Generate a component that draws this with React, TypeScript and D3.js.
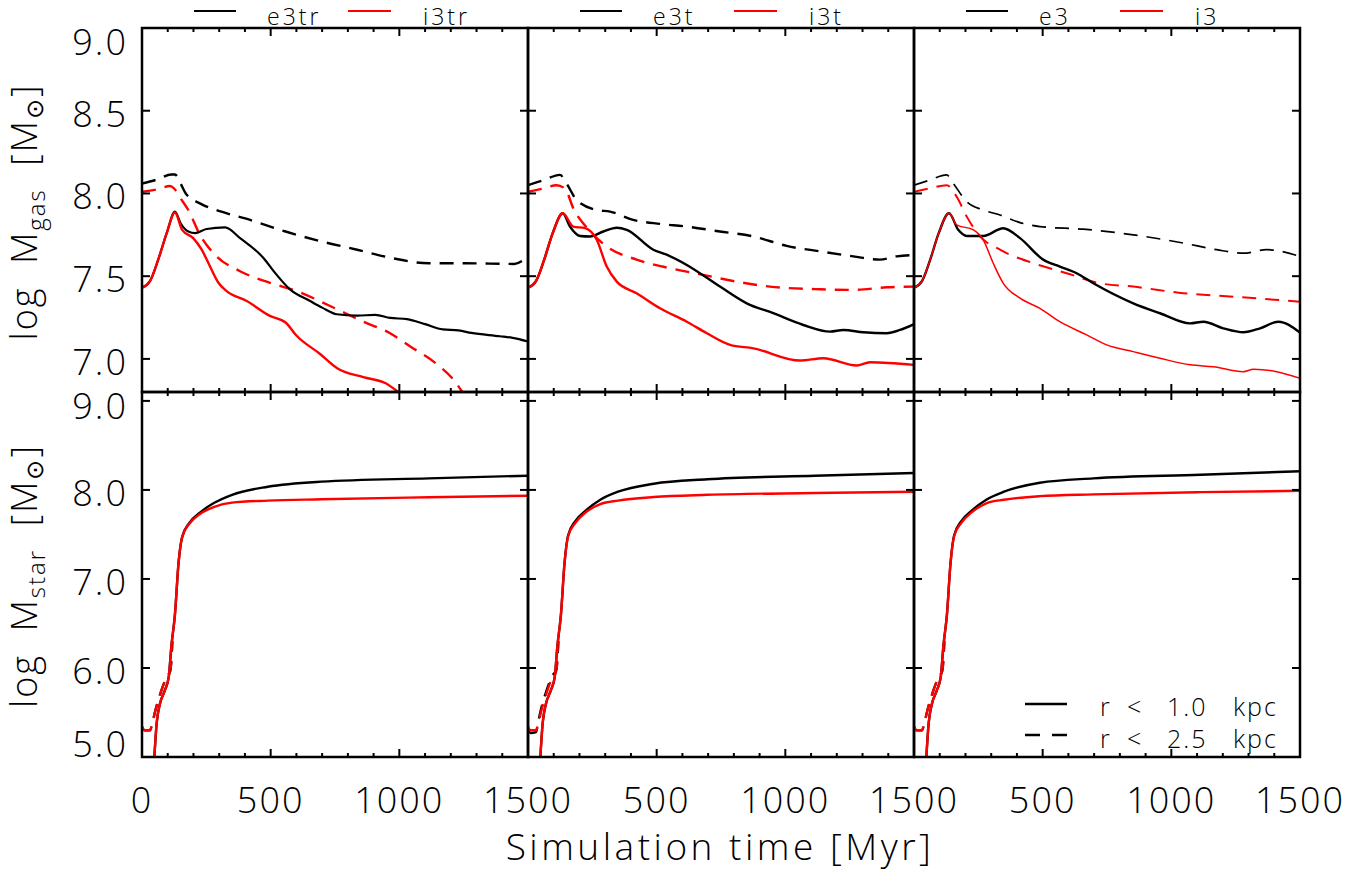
import React from 'react';
import * as d3 from 'd3';

type P = [number, number];

// ---------- time axis ----------
const timeMajor = [0, 500, 1000, 1500];
const timeMinor = [100, 200, 300, 400, 600, 700, 800, 900, 1100, 1200, 1300, 1400];
const gasTicks = [7.0, 7.5, 8.0, 8.5, 9.0];
const starTicks = [5.0, 6.0, 7.0, 8.0, 9.0];

// ---------- panel 1 : e3tr / i3tr (gas) ----------
const gasE3trCore: P[] = [[0,7.43],[31,7.47],[63,7.60],[96,7.76],[128,7.89],[150,7.82],[180,7.77],[206,7.76],[251,7.785],[323,7.795],[381,7.73],[472,7.61],[517,7.52],[575,7.42],[653,7.35],[700,7.31],[757,7.27],[836,7.262],[906,7.266],[964,7.248],[1030,7.24],[1100,7.21],[1169,7.178],[1230,7.172],[1280,7.157],[1391,7.137],[1440,7.127],[1500,7.105]];
const gasI3trCore: P[] = [[0,7.43],[31,7.47],[63,7.60],[96,7.76],[128,7.885],[156,7.78],[199,7.73],[232,7.66],[264,7.56],[297,7.46],[329,7.41],[407,7.35],[497,7.26],[558,7.22],[601,7.14],[692,7.03],[757,6.945],[860,6.89],[947,6.853],[996,6.80]];
const gasE3trOuter: P[] = [[0,8.06],[60,8.085],[114,8.115],[128,8.115],[150,8.06],[170,8.0],[225,7.94],[309,7.89],[420,7.84],[558,7.77],[697,7.71],[836,7.66],[975,7.608],[1114,7.578],[1253,7.578],[1447,7.574],[1500,7.62]];
const gasI3trOuter: P[] = [[0,8.01],[60,8.025],[109,8.045],[125,8.03],[150,7.97],[180,7.90],[225,7.75],[290,7.62],[381,7.53],[497,7.46],[601,7.41],[731,7.32],[860,7.225],[964,7.155],[1044,7.074],[1141,6.974],[1211,6.873],[1245,6.80]];

// ---------- panel 2 : e3t / i3t (gas) ----------
const gasE3tCore: P[] = [[0,7.43],[31,7.47],[63,7.60],[96,7.76],[135,7.88],[163,7.80],[202,7.743],[241,7.74],[293,7.77],[345,7.793],[384,7.78],[487,7.66],[539,7.63],[617,7.568],[746,7.437],[850,7.336],[953,7.276],[1070,7.205],[1174,7.165],[1226,7.175],[1303,7.161],[1394,7.155],[1446,7.175],[1500,7.21]];
const gasI3tCore: P[] = [[0,7.43],[31,7.47],[63,7.60],[96,7.76],[135,7.88],[176,7.80],[222,7.79],[267,7.72],[306,7.558],[345,7.467],[422,7.397],[513,7.306],[617,7.225],[695,7.155],[785,7.085],[876,7.064],[1057,6.99],[1148,7.004],[1277,6.96],[1329,6.98],[1500,6.964]];
const gasE3tOuter: P[] = [[0,8.05],[60,8.08],[124,8.112],[150,8.06],[189,7.96],[267,7.90],[319,7.89],[409,7.84],[513,7.816],[617,7.80],[746,7.77],[876,7.74],[1005,7.683],[1135,7.65],[1264,7.62],[1368,7.60],[1433,7.62],[1500,7.628]];
const gasI3tOuter: P[] = [[0,8.01],[60,8.03],[111,8.05],[143,8.03],[179,7.90],[225,7.80],[306,7.68],[422,7.60],[552,7.548],[681,7.508],[811,7.467],[940,7.437],[1135,7.421],[1264,7.417],[1394,7.433],[1500,7.437]];

// ---------- panel 3 : e3 / i3 (gas) ----------
const gasE3Core: P[] = [[0,7.43],[31,7.47],[63,7.60],[96,7.76],[136,7.88],[172,7.78],[205,7.743],[269,7.743],[347,7.79],[412,7.73],[502,7.60],[567,7.558],[632,7.518],[697,7.457],[852,7.336],[956,7.276],[1073,7.215],[1125,7.225],[1202,7.185],[1280,7.161],[1345,7.185],[1416,7.225],[1500,7.159]];
const gasI3Core: P[] = [[0,7.43],[31,7.47],[63,7.60],[96,7.76],[136,7.88],[166,7.81],[231,7.78],[269,7.72],[308,7.578],[347,7.457],[412,7.367],[489,7.306],[567,7.225],[671,7.145],[749,7.085],[852,7.044],[956,7.004],[1073,6.964],[1163,6.953],[1280,6.923],[1319,6.937],[1409,6.923],[1500,6.883]];
const gasE3Outer: P[] = [[0,8.05],[60,8.08],[127,8.112],[153,8.06],[205,7.95],[269,7.90],[334,7.87],[412,7.824],[489,7.80],[658,7.784],[852,7.75],[1047,7.70],[1176,7.66],[1280,7.639],[1370,7.66],[1500,7.62]];
const gasI3Outer: P[] = [[0,8.01],[60,8.03],[127,8.05],[166,7.98],[205,7.86],[257,7.74],[334,7.66],[464,7.578],[593,7.518],[723,7.457],[852,7.437],[1047,7.397],[1241,7.376],[1500,7.346]];

// ---------- stellar mass ----------
const starE3trCore: P[] = [[48,5.0],[57,5.38],[70,5.60],[89,5.75],[104,5.90],[114,6.24],[128,6.6],[142,7.18],[156,7.47],[184,7.63],[225,7.745],[281,7.855],[350,7.945],[489,8.036],[697,8.093],[1114,8.13],[1500,8.16]];
const starI3trCore: P[] = [[48,5.0],[57,5.38],[70,5.60],[89,5.75],[104,5.90],[114,6.24],[128,6.6],[142,7.18],[156,7.47],[184,7.62],[225,7.73],[281,7.81],[350,7.857],[489,7.88],[697,7.895],[1114,7.917],[1500,7.935]];
const starE3trOuter: P[] = [[0,5.34],[10,5.30],[31,5.30],[40,5.38],[50,5.50],[70,5.70],[96,5.90],[110,5.97],[118,6.3]];
const starI3trOuter: P[] = [[0,5.34],[10,5.30],[31,5.30],[40,5.38],[50,5.50],[70,5.70],[96,5.90],[110,5.97],[118,6.3]];

const starE3tCore: P[] = [[48,5.0],[57,5.38],[70,5.60],[89,5.75],[104,5.90],[114,6.24],[128,6.6],[142,7.18],[156,7.49],[184,7.65],[225,7.77],[281,7.89],[350,7.98],[489,8.07],[697,8.12],[1114,8.16],[1500,8.19]];
const starI3tCore: P[] = [[48,5.0],[57,5.38],[70,5.60],[89,5.75],[104,5.90],[114,6.24],[128,6.6],[142,7.18],[156,7.48],[184,7.63],[225,7.75],[281,7.84],[350,7.88],[489,7.92],[697,7.945],[1114,7.965],[1500,7.98]];
const starE3tOuter: P[] = [[0,5.30],[10,5.27],[31,5.28],[40,5.40],[50,5.53],[70,5.73],[96,5.92],[110,5.98],[118,6.3]];
const starI3tOuter: P[] = [[0,5.34],[10,5.30],[31,5.30],[40,5.38],[50,5.50],[70,5.70],[96,5.90],[110,5.97],[118,6.3]];

const starE3Core: P[] = [[48,5.0],[57,5.38],[70,5.60],[89,5.75],[104,5.90],[114,6.24],[128,6.6],[142,7.18],[156,7.49],[184,7.65],[225,7.77],[281,7.89],[350,7.98],[489,8.08],[697,8.13],[1114,8.17],[1500,8.21]];
const starI3Core: P[] = [[48,5.0],[57,5.38],[70,5.60],[89,5.75],[104,5.90],[114,6.24],[128,6.6],[142,7.18],[156,7.48],[184,7.63],[225,7.75],[281,7.85],[350,7.89],[489,7.93],[697,7.95],[1114,7.975],[1500,7.99]];
const starE3Outer: P[] = [[0,5.34],[10,5.30],[31,5.30],[40,5.38],[50,5.50],[70,5.70],[96,5.90],[110,5.97],[118,6.3]];
const starI3Outer: P[] = [[0,5.34],[10,5.30],[31,5.30],[40,5.38],[50,5.50],[70,5.70],[96,5.90],[110,5.97],[118,6.3]];

const runNames: [string, string][] = [['e3tr', 'i3tr'], ['e3t', 'i3t'], ['e3', 'i3']];
const legendRadii = [['r', '<', '1.0', 'kpc'], ['r', '<', '2.5', 'kpc']];

const panels = [
  { gas: [gasE3trCore, gasI3trCore, gasE3trOuter, gasI3trOuter], star: [starE3trCore, starI3trCore, starE3trOuter, starI3trOuter], widths: [2.2, 2.4, 2.4, 2.4] },
  { gas: [gasE3tCore, gasI3tCore, gasE3tOuter, gasI3tOuter], star: [starE3tCore, starI3tCore, starE3tOuter, starI3tOuter], widths: [2.4, 2.4, 2.4, 2.4] },
  { gas: [gasE3Core, gasI3Core, gasE3Outer, gasI3Outer], star: [starE3Core, starI3Core, starE3Outer, starI3Outer], widths: [2.4, 1.5, 1.7, 2.0] },
];

const W = 1346, H = 873;
const L0 = 142, PW = 386;
const YT = 28, YM = 392, YB = 757;
const FONT = "'Open Sans', Lato, 'DejaVu Sans', sans-serif";
const FW = 300;
const RED = '#ff0000';
const DASH = '14,9';

export default function App() {
  const yGas = d3.scaleLinear().domain([6.8, 9.0]).range([YM, YT]);
  const yStar = d3.scaleLinear().domain([5.0, 9.1]).range([YB, YM]);
  const fmt = d3.format('.1f');

  const rows = [
    { y: yGas, top: YT, bot: YM, ticks: gasTicks, key: 'gas' as const },
    { y: yStar, top: YM, bot: YB, ticks: starTicks, key: 'star' as const },
  ];

  const out: React.ReactNode[] = [];
  const defs: React.ReactNode[] = [];

  panels.forEach((pan, k) => {
    const x = d3.scaleLinear().domain([0, 1500]).range([L0 + k * PW, L0 + (k + 1) * PW]);
    const x0 = x(0), x1 = x(1500);
    rows.forEach((row, r) => {
      const id = `clip-${k}-${r}`;
      defs.push(<clipPath id={id} key={id}><rect x={x0} y={row.top} width={x1 - x0} height={row.bot - row.top} /></clipPath>);
      const line = d3.line<P>().x(d => x(d[0])).y(d => row.y(d[1])).curve(d3.curveMonotoneX);
      const series = pan[row.key];
      const styles = [
        { c: '#000', dash: undefined as string | undefined },
        { c: RED, dash: undefined },
        { c: '#000', dash: DASH },
        { c: RED, dash: DASH },
      ];
      const order = [2, 3, 0, 1];
      out.push(
        <g clipPath={`url(#${id})`} key={`lines-${k}-${r}`}>
          {order.map(i => (
            <path key={i} d={line(series[i]) || ''} fill="none" stroke={styles[i].c}
              strokeWidth={r === 1 ? 2.4 : pan.widths[i]} strokeDasharray={styles[i].dash} strokeLinejoin="round" />
          ))}
        </g>
      );
      const tks: React.ReactNode[] = [];
      [...timeMajor, ...timeMinor].forEach(t => {
        const len = timeMajor.includes(t) ? 8 : 4;
        tks.push(<line key={`tt${t}`} x1={x(t)} x2={x(t)} y1={row.top} y2={row.top + len} stroke="#000" strokeWidth={2} />);
        tks.push(<line key={`tb${t}`} x1={x(t)} x2={x(t)} y1={row.bot} y2={row.bot - len} stroke="#000" strokeWidth={2} />);
      });
      row.ticks.forEach(v => {
        const yy = row.y(v);
        tks.push(<line key={`yl${v}`} x1={x0} x2={x0 + 8} y1={yy} y2={yy} stroke="#000" strokeWidth={2} />);
        tks.push(<line key={`yr${v}`} x1={x1} x2={x1 - 8} y1={yy} y2={yy} stroke="#000" strokeWidth={2} />);
      });
      out.push(<g key={`ticks-${k}-${r}`}>{tks}</g>);
      out.push(<rect key={`frame-${k}-${r}`} x={x0} y={row.top} width={x1 - x0} height={row.bot - row.top} fill="none" stroke="#000" strokeWidth={2.5} />);
      if (k === 0) {
        row.ticks.forEach(v => {
          const base = Math.max(row.top + 27, Math.min(row.y(v) + 16, row.bot));
          out.push(<text key={`yt-${r}-${v}`} x={x0 - 14} y={base} textAnchor="end" fontSize={36} fontFamily={FONT} fontWeight={FW} letterSpacing={2}>{fmt(v)}</text>);
        });
      }
    });
    timeMajor.filter(t => k === 0 || t > 0).forEach(t => {
      out.push(<text key={`xl-${k}-${t}`} x={x(t)} y={813} textAnchor="middle" fontSize={36} fontFamily={FONT} fontWeight={FW} letterSpacing={2}>{String(t)}</text>);
    });
    const [eName, iName] = runNames[k];
    out.push(
      <g key={`leg-${k}`} fontFamily={FONT} fontWeight={FW} fontSize={23}>
        <line x1={x0 + 52} x2={x0 + 94} y1={11} y2={11} stroke="#000" strokeWidth={2} />
        <text x={x0 + 125} y={25} letterSpacing={3}>{eName}</text>
        <line x1={x0 + 206} x2={x0 + 249} y1={11} y2={11} stroke={RED} strokeWidth={2} />
        <text x={x0 + 281} y={25} letterSpacing={3}>{iName}</text>
      </g>
    );
  });

  const wordX = [1100, 1127, 1167, 1233];

  return (
    <svg width={W} height={H} style={{ position: 'absolute', left: 0, top: 0, display: 'block', background: '#fff' }}>
      <defs>{defs}</defs>
      <rect x={0} y={0} width={W} height={H} fill="#fff" />
      {out}
      <g fontFamily={FONT} fontWeight={FW} fontSize={25} letterSpacing={2}>
        <line x1={1025} x2={1067} y1={704} y2={704} stroke="#000" strokeWidth={2.5} />
        {legendRadii[0].map((w, i) => <text key={`a${i}`} x={wordX[i]} y={716}>{w}</text>)}
        <line x1={1025} x2={1067} y1={735} y2={735} stroke="#000" strokeWidth={2.5} strokeDasharray="15,12" />
        {legendRadii[1].map((w, i) => <text key={`b${i}`} x={wordX[i]} y={748}>{w}</text>)}
      </g>
      <text x={720} y={860} textAnchor="middle" fontSize={37} fontFamily={FONT} fontWeight={FW} letterSpacing={3.5} style={{ whiteSpace: 'pre' }}>Simulation time [Myr]</text>
      <text transform="translate(37,212) rotate(-90)" textAnchor="middle" fontSize={36} fontFamily={FONT} fontWeight={FW} letterSpacing={2} style={{ whiteSpace: 'pre' }}>
        log  M<tspan fontSize={24} dy={8}>gas</tspan><tspan dy={-8}>  [M</tspan><tspan fontSize={24} dy={6}>⊙</tspan><tspan dy={-6}>]</tspan>
      </text>
      <text transform="translate(37,576) rotate(-90)" textAnchor="middle" fontSize={36} fontFamily={FONT} fontWeight={FW} letterSpacing={2} style={{ whiteSpace: 'pre' }}>
        log  M<tspan fontSize={24} dy={8}>star</tspan><tspan dy={-8}>  [M</tspan><tspan fontSize={24} dy={6}>⊙</tspan><tspan dy={-6}>]</tspan>
      </text>
    </svg>
  );
}
